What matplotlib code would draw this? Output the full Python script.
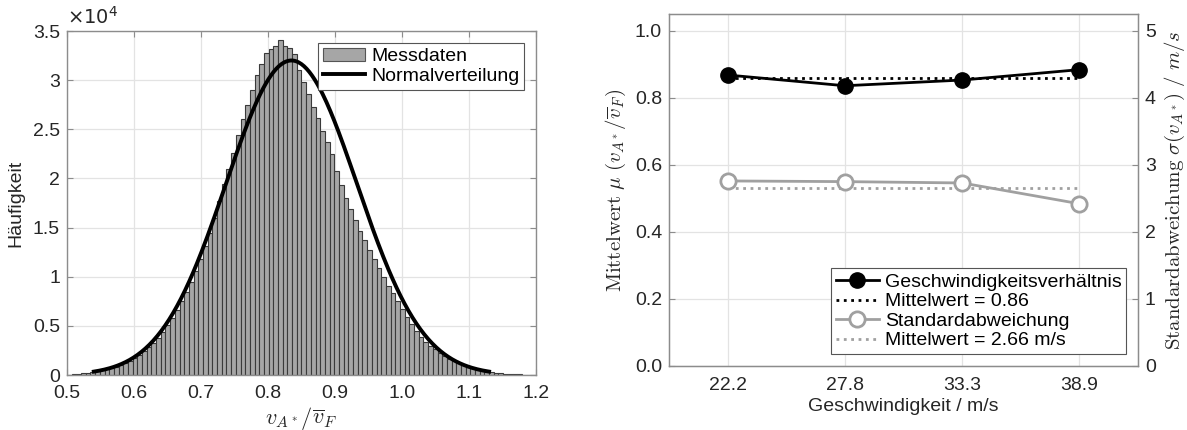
import numpy as np
import matplotlib.pyplot as plt
from matplotlib.patches import Patch
from matplotlib.lines import Line2D

### DATA ###

# histogram: 100 bins from 0.5 to 1.2, counts in units of 10^4
bin_lo, bin_hi = 0.5, 1.2
counts_1e4 = [
    0.005, 0.008, 0.012, 0.016, 0.022, 0.03, 0.04, 0.05, 0.06, 0.07,
    0.08, 0.10, 0.12, 0.14, 0.17, 0.20, 0.24, 0.28, 0.33, 0.38,
    0.44, 0.51, 0.58, 0.66, 0.75, 0.84, 0.95, 1.06, 1.18, 1.31,
    1.44, 1.60, 1.77, 1.94, 2.10, 2.26, 2.44, 2.60, 2.75, 2.90,
    3.05, 3.16, 3.28, 3.32, 3.35, 3.41, 3.35, 3.33, 3.27, 3.10,
    2.98, 2.86, 2.73, 2.61, 2.48, 2.37, 2.25, 2.08, 1.93, 1.80,
    1.69, 1.58, 1.47, 1.37, 1.27, 1.18, 1.09, 1.00, 0.91, 0.83,
    0.75, 0.67, 0.59, 0.52, 0.45, 0.39, 0.34, 0.30, 0.26, 0.22,
    0.19, 0.165, 0.14, 0.12, 0.10, 0.085, 0.07, 0.055, 0.045, 0.035,
    0.028, 0.022, 0.017, 0.013, 0.010, 0.008, 0.006, 0.004, 0.003, 0.002,
]

# fitted normal distribution
fit_mu = 0.835
fit_sigma = 0.098
fit_peak_1e4 = 3.2
fit_range = (0.54, 1.13)

# right chart
speeds = ["22.2", "27.8", "33.3", "38.9"]
ratio = [0.868, 0.836, 0.853, 0.884]
ratio_mean = 0.86
std_dev = [2.76, 2.75, 2.73, 2.42]
std_mean = 2.66

### STYLE ###

plt.rcParams['font.family'] = ['Liberation Sans', 'DejaVu Sans']
plt.rcParams['mathtext.fontset'] = 'cm'
fs = 14

txt = '#262626'
spine = '#8c8c8c'
gridc = '#e3e3e3'
barc = '#a6a6a6'
grayl = '#a0a0a0'

fig = plt.figure(figsize=(11.87, 4.30), dpi=100)

def style(ax):
    ax.grid(True, color=gridc, linewidth=0.9)
    ax.set_axisbelow(True)
    for s in ax.spines.values():
        s.set_color(spine)
        s.set_linewidth(1.0)
    ax.tick_params(direction='in', colors=spine, labelcolor=txt, labelsize=fs, length=4, pad=5)

# ---- left: histogram ----
ax1 = fig.add_axes([67/1187, 55/430, 469/1187, 344/430])
n = len(counts_1e4)
width = (bin_hi - bin_lo) / n
centers = bin_lo + width * (np.arange(n) + 0.5)
ax1.bar(centers, counts_1e4, width=width, color=barc, edgecolor='#3a3a3a', linewidth=0.8)

xf = np.linspace(fit_range[0], fit_range[1], 300)
yf = fit_peak_1e4 * np.exp(-(xf - fit_mu) ** 2 / (2 * fit_sigma ** 2))
ax1.plot(xf, yf, color='black', linewidth=2.8)

ax1.set_xlim(0.5, 1.2)
ax1.set_ylim(0, 3.5)
ax1.set_xticks(np.arange(0.5, 1.21, 0.1))
ax1.set_xticklabels(["0.5", "0.6", "0.7", "0.8", "0.9", "1.0", "1.1", "1.2"])
ax1.set_yticks(np.arange(0, 3.51, 0.5))
ax1.set_yticklabels(["0", "0.5", "1", "1.5", "2", "2.5", "3", "3.5"])
style(ax1)
ax1.tick_params(top=True, right=True)
ax1.tick_params(axis='x', pad=7)
ax1.set_ylabel("Häufigkeit", color=txt, fontsize=fs, labelpad=6)
ax1.set_xlabel(r"$v_{A^*}/\overline{v}_F$", color=txt, fontsize=16, labelpad=2)
ax1.text(0.0, 1.01, r"$\times 10^4$", transform=ax1.transAxes, fontsize=fs,
         color=txt, ha='left', va='bottom', family='DejaVu Sans',
         math_fontfamily='dejavusans')

h1 = [Patch(facecolor=barc, edgecolor='#555555', linewidth=0.8),
      Line2D([], [], color='black', linewidth=2.8)]
leg1 = ax1.legend(h1, ["Messdaten", "Normalverteilung"], loc='upper right',
                  fancybox=False, framealpha=1, edgecolor='#555555',
                  borderpad=0.25, handlelength=2.2, handletextpad=0.3,
                  labelspacing=0.1, borderaxespad=0.6, fontsize=fs)
leg1.get_frame().set_linewidth(0.8)

# ---- right: ratio and std dev ----
ax2 = fig.add_axes([669/1187, 64/430, 469/1187, 352/430])
ax3 = ax2.twinx()
pos = np.arange(1, len(speeds) + 1)

ax2.plot(pos, ratio, color='black', linewidth=2, marker='o', markersize=11, zorder=3)
ax2.plot([pos[0], pos[-1]], [ratio_mean, ratio_mean], color='black', linestyle=':', linewidth=2)
ax3.plot(pos, std_dev, color=grayl, linewidth=2, marker='o', markersize=11,
         markerfacecolor='white', markeredgewidth=2, zorder=3)
ax3.plot([pos[0], pos[-1]], [std_mean, std_mean], color=grayl, linestyle=':', linewidth=2)

ax2.set_xlim(0.5, 4.5)
ax2.set_ylim(0, 1.05)
ax3.set_ylim(0, 5.25)
ax2.set_xticks(pos)
ax2.set_xticklabels(speeds)
ax2.set_yticks(np.arange(0, 1.01, 0.2))
ax2.set_yticklabels(["0.0", "0.2", "0.4", "0.6", "0.8", "1.0"])
ax3.set_yticks(range(0, 6))
style(ax2)
ax3.tick_params(direction='in', colors=spine, labelcolor=txt, labelsize=fs, length=4, pad=5)
for s in ax3.spines.values():
    s.set_color(spine)
ax2.tick_params(axis='x', length=0, pad=8)

ax2.set_xlabel("Geschwindigkeit / m/s", color=txt, fontsize=fs, labelpad=3)
ax2.set_ylabel(r"$\mathrm{Mittelwert}\ \mu\ (v_{A^*}/\overline{v}_F)$", color=txt, fontsize=15, labelpad=5)
ax3.set_ylabel(r"$\mathrm{Standardabweichung}\ \sigma(v_{A^*})\ /\ m/s$", color=txt, fontsize=15, labelpad=5)

h2 = [Line2D([], [], color='black', linewidth=2, marker='o', markersize=11),
      Line2D([], [], color='black', linewidth=2, linestyle=':'),
      Line2D([], [], color=grayl, linewidth=2, marker='o', markersize=11,
             markerfacecolor='white', markeredgewidth=2),
      Line2D([], [], color=grayl, linewidth=2, linestyle=':')]
leg2 = ax3.legend(h2, ["Geschwindigkeitsverhältnis", "Mittelwert = 0.86",
                       "Standardabweichung", "Mittelwert = 2.66 m/s"],
                  loc='lower right', fancybox=False, framealpha=1, edgecolor='#555555',
                  borderpad=0.25, handlelength=2.2, handletextpad=0.3,
                  labelspacing=0.1, borderaxespad=0.6, fontsize=fs)
leg2.get_frame().set_linewidth(0.8)

plt.savefig("out.png", dpi=100)
